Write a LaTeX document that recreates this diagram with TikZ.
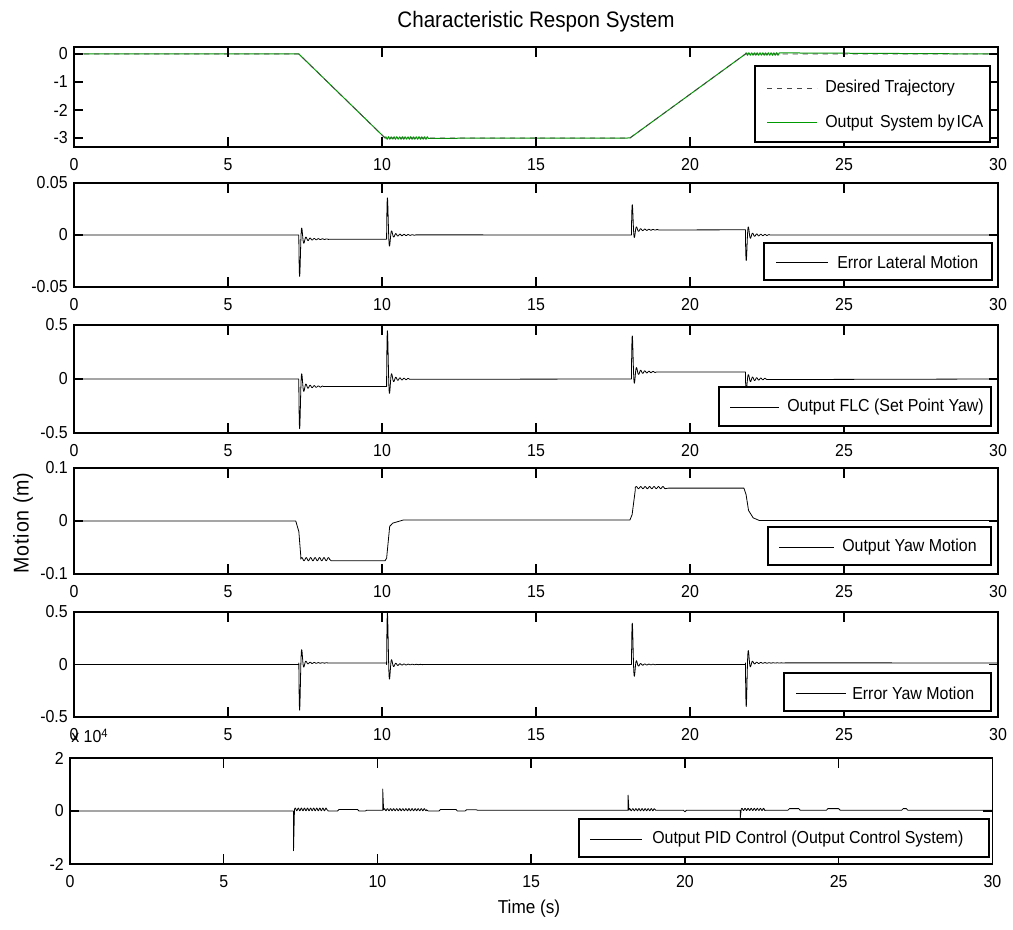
\documentclass[tikz,border=0pt]{standalone}
\usepackage{fontspec}
\setmainfont{Liberation Sans}[FakeStretch=0.92]
\usepackage{tikz}

\definecolor{icagreen}{RGB}{0,155,0}
\definecolor{trajgray}{RGB}{70,70,70}

\tikzset{
  axisline/.style={black, line width=1.1pt},
  sigline/.style={black, line width=0.6pt, line join=round},
  ticklabel/.style={font=\fontsize{13}{15}\selectfont, inner sep=0pt},
  legendbox/.style={draw=black, fill=white, line width=0.9pt, inner sep=0pt},
}

% box, ticks and tick labels of one subplot: #1 ymin, #2 ymax, #3 y ticks
\newcommand{\subframe}[3]{
  \draw[axisline] (0,#1) rectangle (30,#2);
  \foreach \xt in {0,5,...,30} {
    \draw[axisline] (\xt,#1) -- ++(0pt,7.5pt);
    \draw[axisline] (\xt,#2) -- ++(0pt,-7.5pt);
    \node[ticklabel] at ([yshift=-13.5pt]\xt,#1) {\xt};
  }
  \foreach \yv in {#3} {
    \draw[axisline] (0,\yv) -- ++(6.75pt,0pt);
    \draw[axisline] (30,\yv) -- ++(-6.75pt,0pt);
    \node[ticklabel, anchor=east] at ([xshift=-4.5pt]0,\yv) {\yv};
  }
}

\begin{document}
\begin{tikzpicture}[x=0.75pt, y=-0.75pt,
  declare function={ring(\s,\a,\r)=(\a*exp(-20*\s)+\r*exp(-2.5*\s))*sin(2700*\s);}]
  \fill[white] (0,0) rectangle (1013,930);
  \useasboundingbox (0,0) rectangle (1013,930);

  % titles
  \node[font=\fontsize{16.8}{20}\selectfont] (title) at (536,22) {Characteristic Respon System};
  \node[rotate=90, font=\fontsize{16}{19}\selectfont\addfontfeature{LetterSpace=4}] (ylab) at (23,523) {Motion (m)};
  \node[font=\fontsize{14}{17}\selectfont] (xlab) at (529,909) {Time (s)};

  % trajectory
  \begin{scope}[shift={(74,54)}, x=23.1pt, y=21pt]
    \draw[icagreen, line width=0.75pt] (0,0) -- (7.3,0) -- (10.1,-3)
      -- plot[domain=10.1:11.5, samples=100] (\x,{-3+0.04*sin(4000*(\x-10.1))})
      -- (18.05,-3) -- (21.8,0)
      -- plot[domain=21.8:22.9, samples=100] (\x,{0.04*sin(4000*(\x-21.8))}) -- (30,0);
    \draw[trajgray, line width=0.6pt, dash pattern=on 4pt off 3.5pt] (0,0) -- (7.3,0) -- (10.1,-3) -- (18.05,-3) -- (21.8,0) -- (30,0);
    \subframe{-3.32}{0.25}{0,-1,-2,-3}
  \end{scope}

  % error lateral motion
  \begin{scope}[shift={(74,235)}, x=23.1pt, y=780pt]
    \draw[sigline] (0,0) -- (7.3,0)
      -- plot[domain=7.3:8.3, samples=200] (\x,{-0.004+ring(\x-7.3,-0.06,-0.0025)}) -- (10.15,-0.004)
      -- plot[domain=10.15:11.1, samples=200] (\x,{ring(\x-10.15,0.06,0.0025)}) -- (18.1,0)
      -- plot[domain=18.1:19, samples=200] (\x,{0.005+ring(\x-18.1,0.04,0.002)}) -- (21.8,0.005)
      -- plot[domain=21.8:22.6, samples=200] (\x,{ring(\x-21.8,-0.04,-0.0025)}) -- (30,0);
    \subframe{-0.05}{0.05}{-0.05,0,0.05}
  \end{scope}

  % FLC output
  \begin{scope}[shift={(74,379)}, x=23.1pt, y=81pt]
    \draw[sigline] (0,0) -- (7.3,0)
      -- plot[domain=7.3:8.1, samples=200] (\x,{-0.07+ring(\x-7.3,-0.65,-0.03)}) -- (10.15,-0.07)
      -- plot[domain=10.15:10.9, samples=200] (\x,{ring(\x-10.15,0.75,0.03)}) -- (18.1,0)
      -- plot[domain=18.1:18.9, samples=200] (\x,{0.065+ring(\x-18.1,0.55,0.03)}) -- (21.8,0.065)
      -- plot[domain=21.8:22.5, samples=200] (\x,{ring(\x-21.8,-0.12,-0.03)}) -- (30,0);
    \subframe{-0.5}{0.5}{-0.5,0,0.5}
  \end{scope}

  % yaw motion
  \begin{scope}[shift={(74,521)}, x=23.1pt, y=397.5pt]
    \draw[sigline] (0,0) -- (7.2,0) -- (7.3,-0.02) -- (7.36,-0.064)
      -- plot[domain=7.36:8.3, samples=80] (\x,{-0.072+0.003*sin(2500*(\x-7.36))})
      -- (8.35,-0.075) -- (10.1,-0.075) -- (10.15,-0.07) -- (10.25,-0.01) -- (10.35,-0.004)
      -- (10.7,0.002) -- (18.05,0.002) -- (18.12,0.012) -- (18.22,0.057)
      -- plot[domain=18.22:19.2, samples=80] (\x,{0.063+0.002*sin(2500*(\x-18.22))})
      -- (19.3,0.062) -- (21.75,0.062) -- (21.82,0.05) -- (21.9,0.02) -- (22.05,0.006)
      -- (22.25,0.001) -- (30,0.001);
    \subframe{-0.1}{0.1}{-0.1,0,0.1}
  \end{scope}

  % error yaw motion
  \begin{scope}[shift={(74,664.5)}, x=23.1pt, y=78.75pt]
    \draw[sigline] (0,0) -- (7.3,0)
      -- plot[domain=7.3:8.3, samples=200] (\x,{0.015+ring(\x-7.3,-0.78,-0.015)}) -- (10.15,0.015)
      -- plot[domain=10.15:11.5, samples=200] (\x,{ring(\x-10.15,0.85,0.02)}) -- (18.1,0)
      -- plot[domain=18.1:18.9, samples=200] (\x,{ring(\x-18.1,0.68,0.015)}) -- (21.8,0)
      -- plot[domain=21.8:23.1, samples=200] (\x,{0.015+ring(\x-21.8,-0.72,-0.015)}) -- (30,0.015);
    \subframe{-0.5}{0.5}{-0.5,0,0.5}
  \end{scope}

  % PID control output
  \begin{scope}[shift={(70,811)}, x=23.06pt, y=19.875pt]
    \draw[sigline] (0,0) -- (7.27,0) -- (7.27,-1.5) -- (7.3,0.04)
      -- plot[domain=7.3:8.35, samples=150] (\x,{0.06+0.05*sin(3600*(\x-7.3))})
      -- (8.4,0) -- (8.7,0) -- (8.75,0.06) -- (9.35,0.06) -- (9.4,0) -- (9.6,0) -- (9.65,0.03)
      -- (10.17,0.03) -- (10.17,0.83) -- (10.2,0.04)
      -- plot[domain=10.2:11.6, samples=180] (\x,{0.05+0.04*sin(3600*(\x-10.2))})
      -- (11.65,0) -- (12,0) -- (12.05,0.06) -- (12.55,0.06) -- (12.6,0) -- (12.85,0)
      -- (12.9,0.05) -- (13.2,0.05) -- (13.25,0.03) -- (18.15,0.03) -- (18.15,0.6) -- (18.18,0.03)
      -- plot[domain=18.18:19, samples=120] (\x,{0.05+0.04*sin(3600*(\x-18.18))})
      -- (19.05,0.03) -- (19.95,0.03) -- (20,-0.03) -- (20.05,0.03) -- (21.8,0.03)
      -- (21.8,-0.26) -- (21.83,0.05)
      -- plot[domain=21.83:22.6, samples=120] (\x,{0.06+0.04*sin(3600*(\x-21.83))})
      -- (22.65,0.03) -- (23.35,0.03) -- (23.4,0.09) -- (23.7,0.09) -- (23.75,0.03)
      -- (24.6,0.03) -- (24.65,0.09) -- (25,0.09) -- (25.05,0.03) -- (27.05,0.03)
      -- (27.1,0.09) -- (27.2,0.09) -- (27.25,0.03) -- (30,0.03);
    \subframe{-2}{2}{-2,0,2}
  \end{scope}
  \node[ticklabel, anchor=west] (expo) at (71,736) {x 10\textsuperscript{4}};

  % legends
  \node[legendbox, minimum width=176.25pt, minimum height=57pt] (legtraj) at (872.5,104) {};
  \draw[trajgray, line width=0.6pt, dash pattern=on 4pt off 3.5pt] (767,88) -- (817,88);
  \node[ticklabel, anchor=west] (legtrajA) at (825,88) {Desired Trajectory};
  \draw[icagreen, line width=0.75pt] (767,123) -- (817,123);
  \node[ticklabel, anchor=west] (legtrajB) at (825,123) {Output\hspace{0.4em}System by\hspace{0.12em}ICA};

  \node[legendbox, minimum width=171pt, minimum height=27.75pt] (leglat) at (878,261.5) {};
  \draw[sigline] (776,262) -- (828,262);
  \node[ticklabel, anchor=west] at (837,262) {Error Lateral Motion};

  \node[legendbox, minimum width=204pt, minimum height=29.25pt] (legflc) at (855,406.5) {};
  \draw[sigline] (730,407) -- (779,407);
  \node[ticklabel, anchor=west] at (787,407) {Output FLC (Set Point Yaw)};

  \node[legendbox, minimum width=167.25pt, minimum height=28.5pt] (legyaw) at (879.5,546) {};
  \draw[sigline] (779,547) -- (834,547);
  \node[ticklabel, anchor=west] at (842,547) {Output Yaw Motion};

  \node[legendbox, minimum width=155.25pt, minimum height=28.5pt] (legerr) at (887.5,692) {};
  \draw[sigline] (796,693) -- (846,693);
  \node[ticklabel, anchor=west] at (852,693) {Error Yaw Motion};

  \node[legendbox, minimum width=307.5pt, minimum height=28.5pt] (legpid) at (784,838) {};
  \draw[sigline] (590,839) -- (642,839);
  \node[ticklabel, anchor=west] at (652,839) {Output PID Control (Output Control System)};
\end{tikzpicture}
\end{document}
